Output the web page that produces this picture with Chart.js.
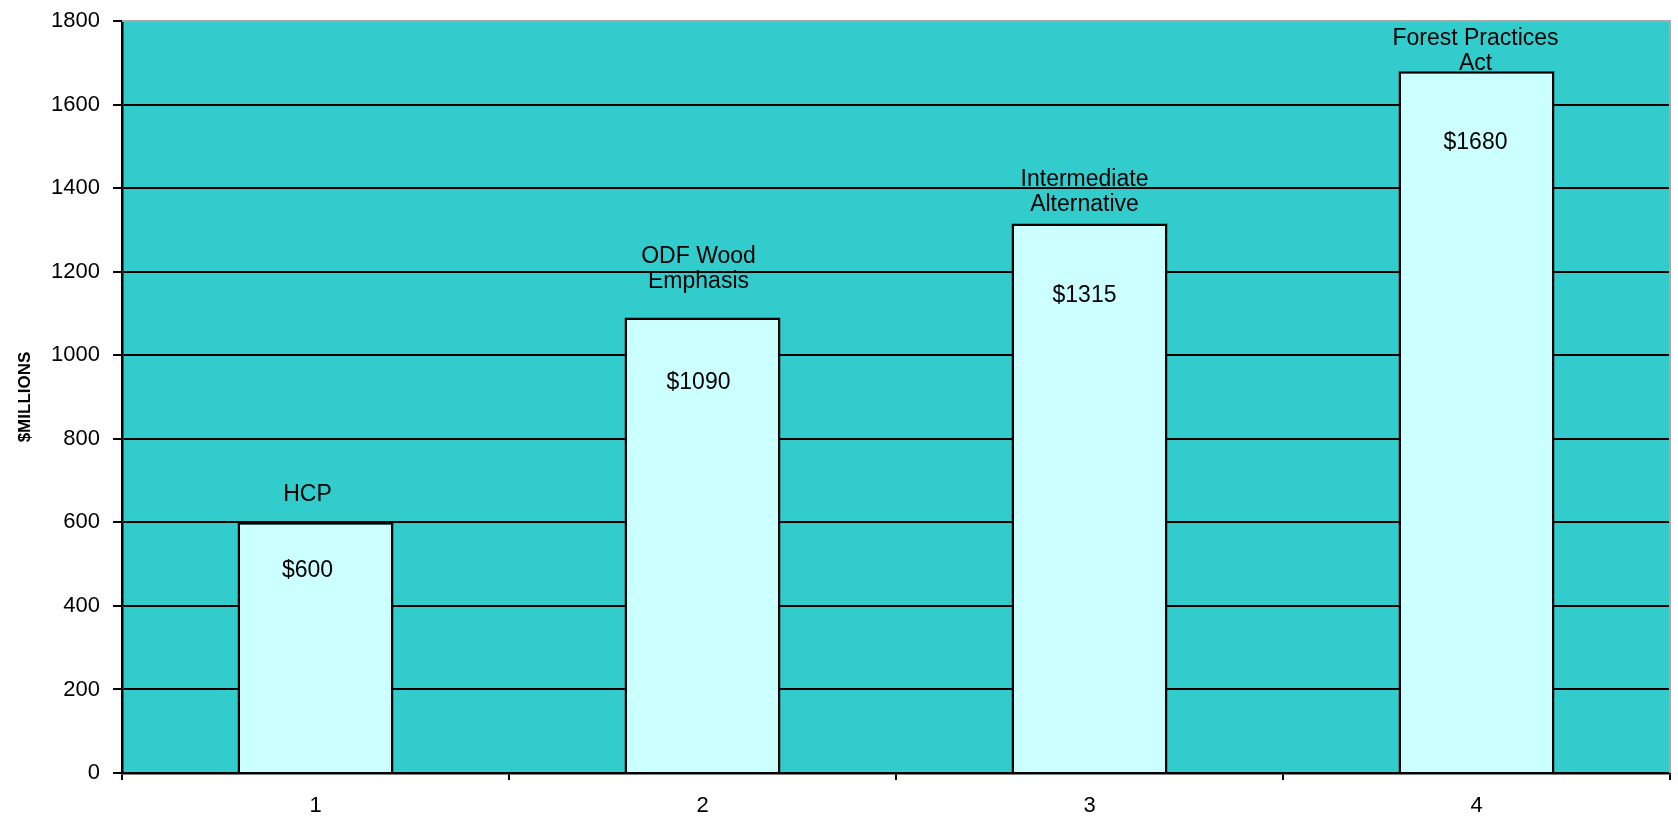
<!DOCTYPE html>
<html><head><meta charset="utf-8">
<script src="https://cdn.jsdelivr.net/npm/chart.js@4/dist/chart.umd.min.js"></script>
<style>html,body{margin:0;padding:0;background:#fff;}</style>
</head><body>
<canvas id="c" width="1678" height="816" style="display:block;width:1678px;height:816px"></canvas>
<script>
const categories = ['1', '2', '3', '4'];
const values = [600, 1090, 1315, 1680];
const barNames = [['HCP'], ['ODF Wood', 'Emphasis'], ['Intermediate', 'Alternative'], ['Forest Practices', 'Act']];
const valueLabels = ['$600', '$1090', '$1315', '$1680'];
const yTicks = [0, 200, 400, 600, 800, 1000, 1200, 1400, 1600, 1800];
const yTitle = '$MILLIONS';

const FONT = '"Liberation Sans", Arial, sans-serif';

const plotBg = {
  id: 'plotBg',
  beforeDraw(chart) {
    const {ctx, chartArea: a} = chart;
    ctx.save();
    ctx.fillStyle = '#33CCCC';
    ctx.fillRect(a.left, a.top, a.right - a.left, a.bottom - a.top);
    ctx.restore();
  },
  afterDatasetsDraw(chart) {
    const {ctx, chartArea: a} = chart;
    ctx.save();
    ctx.strokeStyle = '#a8a8a8';
    ctx.lineWidth = 2;
    ctx.beginPath();
    ctx.moveTo(a.left, a.top);
    ctx.lineTo(a.right, a.top);
    ctx.lineTo(a.right, a.bottom);
    ctx.stroke();
    ctx.restore();
  }
};

const barLabels = {
  id: 'barLabels',
  beforeDatasetsDraw(chart, args, opts) {
    const {ctx} = chart;
    const meta = chart.getDatasetMeta(0);
    ctx.save();
    ctx.font = opts.font;
    ctx.fillStyle = '#000';
    ctx.textAlign = 'center';
    ctx.textBaseline = 'middle';
    meta.data.forEach((bar, i) => {
      const lines = barNames[i];
      const base = bar.y - opts.nameOffsets[i];
      lines.forEach((ln, j) => {
        ctx.fillText(ln, bar.x + opts.dx[i], base - (lines.length - 1 - j) * opts.lineGap);
      });
    });
    ctx.restore();
  },
  afterDatasetsDraw(chart, args, opts) {
    const {ctx} = chart;
    const meta = chart.getDatasetMeta(0);
    ctx.save();
    ctx.font = opts.font;
    ctx.fillStyle = '#000';
    ctx.textAlign = 'center';
    ctx.textBaseline = 'middle';
    meta.data.forEach((bar, i) => {
      ctx.fillText(valueLabels[i], bar.x + opts.dx[i], bar.y + opts.valueOffsets[i]);
    });
    ctx.restore();
  }
};

new Chart(document.getElementById('c'), {
  type: 'bar',
  data: {
    labels: categories,
    datasets: [{
      data: values,
      backgroundColor: '#CCFFFF',
      borderColor: '#000',
      borderWidth: 2.5,
      barPercentage: 0.403,
      categoryPercentage: 1
    }]
  },
  options: {
    responsive: false,
    animation: false,
    layout: {padding: {left: 15, top: 21, right: 8, bottom: 0}},
    plugins: {
      legend: {display: false},
      tooltip: {enabled: false},
      barLabels: {
        font: '23px ' + FONT,
        nameOffsets: [28, 36, 19, 7],
        valueOffsets: [48, 65, 72, 72],
        lineGap: 25,
        dx: [-8, -4, -5, -1]
      }
    },
    scales: {
      x: {
        grid: {offset: true, drawOnChartArea: false, drawTicks: true, tickLength: 7, color: '#000', lineWidth: 2},
        border: {color: '#000', width: 2.5},
        ticks: {color: '#000', font: {family: FONT, size: 22}, padding: 13},
        afterFit(s) { s.height = 43; s.paddingLeft = 0; s.paddingRight = 0; }
      },
      y: {
        min: 0, max: 1800,
        afterBuildTicks(s) { s.ticks = yTicks.map(v => ({value: v})); },
        grid: {
          color: c => (c.tick && c.tick.value === 1800) ? '#a8a8a8' : '#000',
          tickColor: '#000',
          lineWidth: 2,
          tickLength: 9,
          drawTicks: true
        },
        border: {color: '#000', width: 2.5},
        ticks: {color: '#000', font: {family: FONT, size: 22}, padding: 13, callback: v => String(v)},
        title: {display: true, text: yTitle, color: '#000', font: {family: FONT, size: 17, weight: 'bold'}, padding: 0},
        afterFit(s) { s.width = 107; s.paddingTop = 0; s.paddingBottom = 0; }
      }
    }
  },
  plugins: [plotBg, barLabels]
});
</script>
</body></html>
